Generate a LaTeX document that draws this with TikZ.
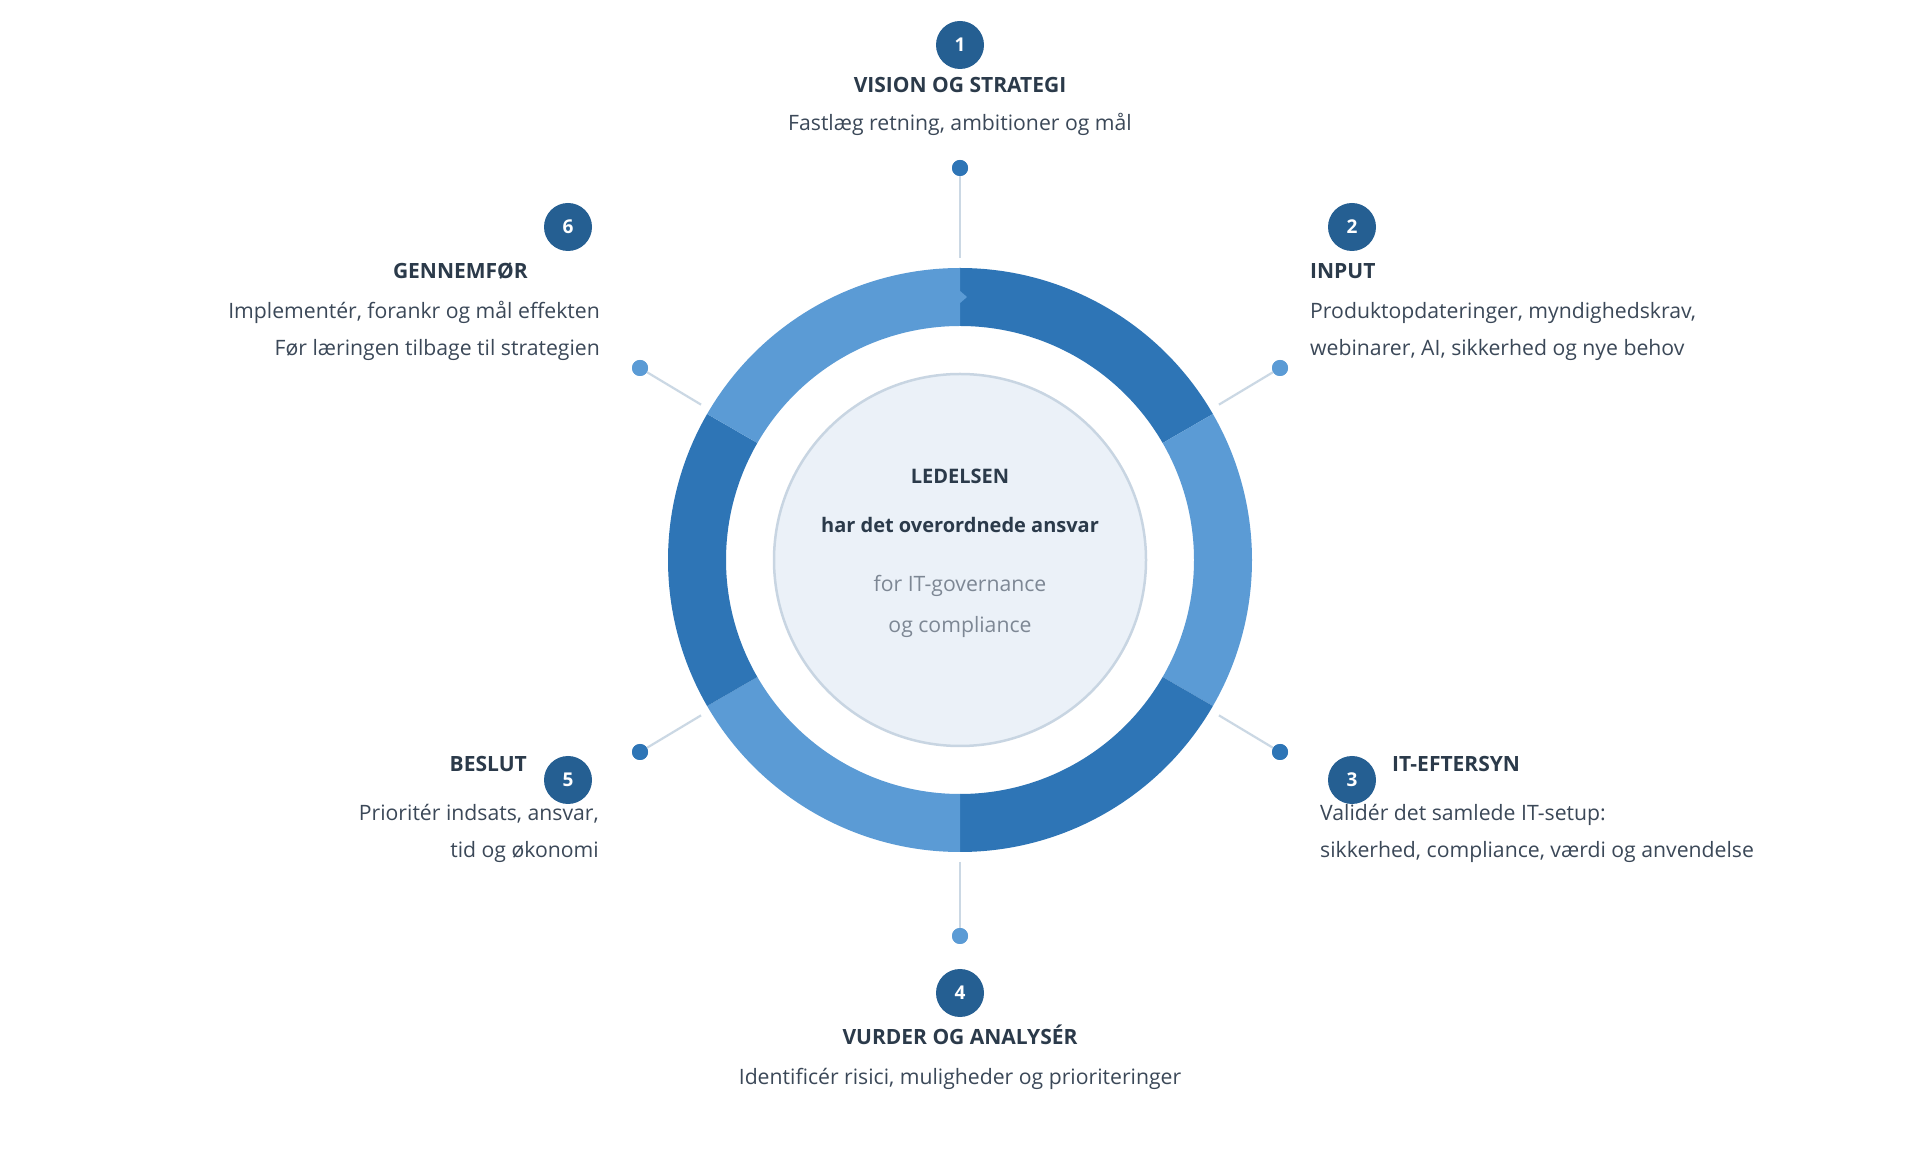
\documentclass[tikz,border=0pt]{standalone}
\usepackage{fontspec}
\setmainfont{Open Sans}
\usetikzlibrary{calc}
\definecolor{segdark}{HTML}{2E75B6}
\definecolor{seglight}{HTML}{5B9BD5}
\definecolor{numblue}{HTML}{255F92}
\definecolor{headtxt}{HTML}{2B3A4A}
\definecolor{desctxt}{HTML}{3B4858}
\definecolor{graytxt}{HTML}{7D8794}
\definecolor{spokecol}{HTML}{CBD8E4}
\definecolor{corefill}{HTML}{EBF1F8}
\definecolor{coreline}{HTML}{C8D5E2}
\newcommand\ringseg[3]{\fill[#1] ($(C)+(#2:292)$) arc[start angle=#2,end angle=#3,radius=292] -- ($(C)+(#3:234)$) arc[start angle=#3,end angle=#2,radius=234] -- cycle;}
\begin{document}
\begin{tikzpicture}[x=1pt,y=1pt,
  numc/.style={circle,fill=numblue,minimum size=48pt,inner sep=0pt,text=white,font=\fontsize{19}{19}\selectfont\bfseries},
  head/.style={inner sep=0pt,text=headtxt,font=\fontsize{21}{24}\selectfont\bfseries},
  desc/.style={inner sep=0pt,text=desctxt,font=\fontsize{21.2}{25}\selectfont},
  ctrhead/.style={inner sep=0pt,text=headtxt,font=\fontsize{20}{24}\selectfont\bfseries},
  ctrgray/.style={inner sep=0pt,text=graytxt,font=\fontsize{21.2}{25}\selectfont},
  dotdark/.style={circle,fill=segdark,minimum size=16pt,inner sep=0pt},
  dotlight/.style={circle,fill=seglight,minimum size=16pt,inner sep=0pt},
  spk/.style={draw=spokecol,line width=2.2pt}
]
\useasboundingbox[fill=white] (0,0) rectangle (1920,1152);
\coordinate (C) at (960,592);

% ring
\ringseg{segdark}{30}{90}
\ringseg{seglight}{-30}{30}
\ringseg{segdark}{-90}{-30}
\ringseg{seglight}{-150}{-90}
\ringseg{segdark}{150}{210}
\ringseg{seglight}{90}{150}
\fill[seglight] (959,862) -- (967,855) -- (959,848) -- cycle;

% core
\node[circle,fill=corefill,draw=coreline,line width=2.5pt,minimum size=372pt,inner sep=0pt] (core) at (C) {};
\node[ctrhead,anchor=mid] (lead) at (960,671) {LEDELSEN};
\node[ctrhead,anchor=mid] (resp) at (960,622) {har det overordnede ansvar};
\node[ctrgray,anchor=mid] (for1) at (960,563) {for IT-governance};
\node[ctrgray,anchor=mid] (for2) at (960,522) {og compliance};

% dots
\node[dotdark]  (d1) at (960,984) {};
\node[dotlight] (d2) at (1280,784) {};
\node[dotdark]  (d3) at (1280,400) {};
\node[dotlight] (d4) at (960,216) {};
\node[dotdark]  (d5) at (640,400) {};
\node[dotlight] (d6) at (640,784) {};

% spokes
\foreach \i in {1,...,6}{
  \coordinate (s\i) at ($(C)!302pt!(d\i)$);
  \draw[spk] (s\i) -- (d\i);
}
\node[dotdark]  at (d1) {};
\node[dotlight] at (d2) {};
\node[dotdark]  at (d3) {};
\node[dotlight] at (d4) {};
\node[dotdark]  at (d5) {};
\node[dotlight] at (d6) {};

% number circles
\node[numc] (n1) at (960,1107) {1};
\node[numc] (n2) at (1352,925) {2};
\node[numc] (n3) at (1352,372) {3};
\node[numc] (n4) at (960,159) {4};
\node[numc] (n5) at (568,372) {5};
\node[numc] (n6) at (568,925) {6};

% step 1
\node[head,anchor=mid] (h1) at (960,1062) {VISION OG STRATEGI};
\node[desc,anchor=mid] (t1) at (960,1024) {Fastlæg retning, ambitioner og mål};
% step 2
\node[head,anchor=mid west] (h2) at (1310,876) {INPUT};
\node[desc,anchor=mid west] (t2a) at (1310,836) {Produktopdateringer, myndighedskrav,};
\node[desc,anchor=mid west] (t2b) at (1310,799) {webinarer, AI, sikkerhed og nye behov};
% step 3
\node[head,anchor=mid west] (h3) at (1392,383) {IT-EFTERSYN};
\node[desc,anchor=mid west] (t3a) at (1320,334) {Validér det samlede IT-setup:};
\node[desc,anchor=mid west] (t3b) at (1320,297) {sikkerhed, compliance, værdi og anvendelse};
% step 4
\node[head,anchor=mid] (h4) at (960,110) {VURDER OG ANALYSÉR};
\node[desc,anchor=mid] (t4) at (960,70) {Identificér risici, muligheder og prioriteringer};
% step 5
\node[head,anchor=mid east] (h5) at (527,383) {BESLUT};
\node[desc,anchor=mid east] (t5a) at (599,334) {Prioritér indsats, ansvar,};
\node[desc,anchor=mid east] (t5b) at (599,297) {tid og økonomi};
% step 6
\node[head,anchor=mid east] (h6) at (528,876) {GENNEMFØR};
\node[desc,anchor=mid east] (t6a) at (600,836) {Implementér, forankr og mål effekten};
\node[desc,anchor=mid east] (t6b) at (600,799) {Før læringen tilbage til strategien};
\end{tikzpicture}
\end{document}
